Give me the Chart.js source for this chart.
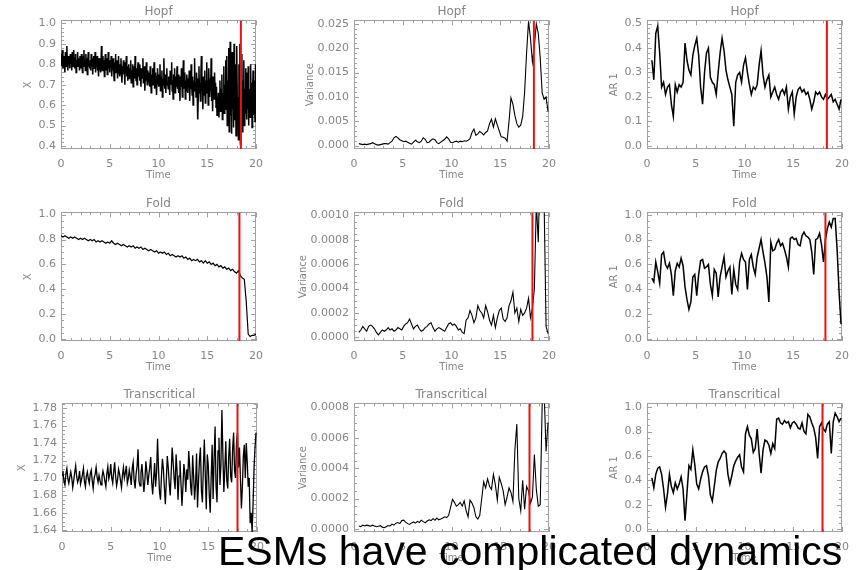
<!DOCTYPE html>
<html>
<head>
<meta charset="utf-8">
<script src="https://cdn.jsdelivr.net/npm/chart.js@4.4.1/dist/chart.umd.min.js"></script>
<style>
  body { margin: 0; background: #fff; }
  #wrap { position: relative; width: 864px; height: 570px; overflow: hidden; background: #fff; }
  .panel { position: absolute; }
  #caption {
    position: absolute; left: 218px; top: 531px; z-index: 5;
    font-family: "Liberation Sans", Arial, sans-serif; font-size: 41px; line-height: 41px;
    color: #000; white-space: nowrap;
  }
</style>
</head>
<body>
<div id="wrap">
  <canvas id="c1" class="panel" width="272" height="184" style="left:0px;top:0px"></canvas>
  <canvas id="c2" class="panel" width="272" height="184" style="left:293px;top:0px"></canvas>
  <canvas id="c3" class="panel" width="272" height="184" style="left:586px;top:0px"></canvas>
  <canvas id="c4" class="panel" width="272" height="184" style="left:0px;top:192px"></canvas>
  <canvas id="c5" class="panel" width="272" height="184" style="left:293px;top:192px"></canvas>
  <canvas id="c6" class="panel" width="272" height="184" style="left:586px;top:192px"></canvas>
  <canvas id="c7" class="panel" width="272" height="184" style="left:1px;top:383px"></canvas>
  <canvas id="c8" class="panel" width="272" height="184" style="left:293px;top:383px"></canvas>
  <canvas id="c9" class="panel" width="272" height="184" style="left:586px;top:383px"></canvas>
  <div id="caption">ESMs have complicated dynamics</div>
</div>
<script>
// ---- datos ----
const titles = ['Hopf', 'Fold', 'Transcritical'];
const transitionTimes = [18.45, 18.3, 18.0]; // línea roja por fila
const timeTicks = [0, 5, 10, 15, 20];

// Hopf: X, dt = 0.05 desde t = 0
const hopfX = [
  .85,.79,.83,.87,.78,.81,.84,.80,.76,.86,.82,.79,.89,.81,.77,.84,.80,.83,.78,.85,
  .80,.84,.77,.86,.82,.79,.87,.81,.78,.83,.85,.76,.82,.80,.86,.79,.83,.81,.77,.84,
  .83,.78,.85,.80,.76,.84,.81,.87,.79,.82,.77,.85,.80,.83,.75,.82,.86,.79,.81,.78,
  .82,.77,.85,.79,.83,.75,.81,.84,.78,.80,.86,.76,.82,.79,.84,.77,.81,.74,.83,.80,
  .78,.83,.76,.89,.80,.77,.84,.79,.82,.74,.81,.85,.77,.80,.83,.75,.79,.86,.78,.81,
  .76,.82,.79,.84,.74,.80,.77,.83,.78,.72,.81,.79,.85,.76,.80,.82,.73,.79,.84,.77,
  .80,.74,.78,.83,.76,.71,.79,.77,.82,.75,.78,.70,.81,.76,.84,.74,.79,.72,.77,.80,
  .73,.78,.76,.82,.71,.77,.74,.80,.69,.76,.79,.73,.84,.75,.72,.78,.70,.77,.81,.74,
  .77,.72,.80,.75,.69,.78,.73,.76,.83,.71,.74,.79,.67,.75,.72,.81,.74,.70,.77,.73,
  .71,.76,.69,.79,.73,.66,.75,.72,.78,.70,.74,.81,.68,.73,.76,.71,.65,.74,.78,.72,
  .75,.69,.72,.80,.67,.74,.71,.77,.64,.73,.70,.83,.72,.68,.75,.66,.73,.78,.70,.71,
  .68,.74,.71,.65,.77,.70,.73,.81,.67,.72,.63,.75,.70,.78,.66,.71,.74,.69,.79,.68,
  .72,.66,.75,.70,.62,.74,.69,.78,.71,.64,.73,.82,.68,.70,.76,.63,.72,.67,.75,.70,
  .66,.73,.69,.77,.62,.71,.68,.80,.70,.65,.74,.60,.72,.69,.83,.67,.71,.64,.76,.70,
  .73,.53,.68,.79,.66,.71,.62,.75,.84,.67,.70,.58,.74,.69,.65,.77,.61,.72,.68,.81,
  .66,.72,.60,.78,.69,.64,.73,.67,.83,.62,.70,.57,.74,.68,.63,.76,.66,.71,.59,.69,
  .55,.62,.58,.66,.54,.63,.72,.57,.68,.61,.75,.53,.66,.60,.79,.56,.70,.63,.82,.58,
  .84,.50,.72,.60,.88,.47,.68,.91,.55,.64,.46,.86,.58,.75,.49,.90,.62,.53,.80,.45,
  .70,.89,.52,.64,.43,.80,.58,.90,.41,.67,.55,.85,.47,.72,.60,.82,.50,.68,.56,.78,
  .62,.53,.76,.58,.79,.50,.68,.63,.54,.80,.59,.71,.49,.66,.77,.55,.72,.61,.52,.80
];
// Hopf: varianza, dt = 0.2 desde t = 0.5
const hopfVar = [
  0.0004,0.0003,0.0002,0.0003,0.0002,0.0003,0.0004,0.0006,0.0004,0.0002,
  0.0001,0.0002,0.0003,0.0004,0.0004,0.0003,0.0006,0.0009,0.0016,0.0019,
  0.0016,0.0012,0.0010,0.0008,0.0009,0.0007,0.0005,0.0003,0.0007,0.0011,
  0.0008,0.0006,0.0009,0.0016,0.0013,0.0006,0.0007,0.0011,0.0014,0.0012,
  0.0006,0.0004,0.0007,0.0010,0.0013,0.0018,0.0014,0.0007,0.0006,0.0008,
  0.0009,0.0007,0.0009,0.0008,0.0010,0.0009,0.0011,0.0014,0.0027,0.0034,
  0.0021,0.0024,0.0029,0.0026,0.0022,0.0027,0.0030,0.0045,0.0054,0.0038,
  0.0055,0.0042,0.0030,0.0018,0.0017,0.0015,0.0009,0.0050,0.0098,0.0085,
  0.0062,0.0045,0.0038,0.0042,0.0060,0.0110,0.0190,0.0255,0.0220,0.0172,
  0.0205,0.0250,0.0230,0.0180,0.0108,0.0095,0.0100,0.0070
];
// Hopf: AR 1, dt = 0.2 desde t = 0.5
const hopfAr = [
  0.35,0.27,0.46,0.49,0.38,0.24,0.26,0.21,0.24,0.25,
  0.17,0.12,0.25,0.22,0.25,0.24,0.26,0.42,0.35,0.31,
  0.29,0.37,0.41,0.44,0.37,0.24,0.17,0.30,0.38,0.40,
  0.28,0.26,0.25,0.21,0.30,0.38,0.44,0.39,0.31,0.27,
  0.24,0.21,0.08,0.26,0.29,0.30,0.26,0.33,0.36,0.30,
  0.25,0.21,0.24,0.23,0.25,0.33,0.39,0.29,0.24,0.27,
  0.29,0.20,0.22,0.24,0.21,0.19,0.22,0.23,0.21,0.24,
  0.15,0.20,0.22,0.13,0.20,0.23,0.24,0.22,0.23,0.21,
  0.22,0.19,0.15,0.18,0.22,0.21,0.22,0.20,0.19,0.21,
  0.19,0.20,0.21,0.18,0.19,0.17,0.15,0.19
];
// Fold: X, dt = 0.2 desde t = 0
const foldX = [
  0.83,0.82,0.83,0.82,0.81,0.82,0.81,0.82,0.81,0.80,
  0.81,0.80,0.81,0.80,0.79,0.80,0.79,0.80,0.78,0.79,
  0.78,0.79,0.78,0.77,0.78,0.77,0.79,0.77,0.76,0.77,
  0.76,0.75,0.76,0.75,0.74,0.75,0.74,0.75,0.73,0.74,
  0.73,0.74,0.72,0.73,0.72,0.71,0.72,0.71,0.70,0.71,
  0.69,0.70,0.69,0.70,0.68,0.69,0.67,0.68,0.67,0.66,
  0.67,0.66,0.67,0.65,0.66,0.64,0.65,0.63,0.64,0.63,
  0.64,0.62,0.63,0.61,0.63,0.61,0.62,0.60,0.61,0.59,
  0.60,0.58,0.59,0.57,0.58,0.56,0.57,0.55,0.56,0.54,
  0.53,0.55,0.51,0.49,0.48,0.30,0.04,0.02,0.03,0.03,
  0.04
];
// Fold: varianza, dt = 0.2 desde t = 0.5
const foldVar = [
  0.00004,0.00006,0.00009,0.00007,0.00005,0.00009,0.00010,0.00009,0.00007,0.00004,
  0.00002,0.00004,0.00006,0.00005,0.00006,0.00008,0.00006,0.00007,0.00005,0.00006,
  0.00008,0.00007,0.00006,0.00009,0.00011,0.00012,0.00015,0.00011,0.00007,0.00009,
  0.00010,0.00007,0.00005,0.00006,0.00008,0.00009,0.00011,0.00012,0.00008,0.00005,
  0.00007,0.00008,0.00007,0.00006,0.00005,0.00008,0.00011,0.00012,0.00010,0.00011,
  0.00009,0.00006,0.00007,0.00004,0.00003,0.00014,0.00016,0.00022,0.00018,0.00012,
  0.00016,0.00026,0.00022,0.00020,0.00016,0.00026,0.00021,0.00014,0.00010,0.00018,
  0.00008,0.00016,0.00022,0.00024,0.00015,0.00013,0.00016,0.00026,0.00030,0.00037,
  0.00020,0.00024,0.00013,0.00023,0.00018,0.00020,0.00024,0.00032,0.00016,0.00024,
  0.00040,0.00110,0.00078,0.00150,0.00150,0.00110,0.00009,0.00003
];
// Fold: AR 1, dt = 0.2 desde t = 0.5
const foldAr = [
  0.49,0.46,0.62,0.54,0.45,0.68,0.70,0.60,0.57,0.61,
  0.52,0.35,0.55,0.61,0.58,0.65,0.59,0.42,0.32,0.24,
  0.30,0.50,0.52,0.35,0.52,0.63,0.64,0.57,0.58,0.60,
  0.44,0.35,0.56,0.53,0.34,0.50,0.58,0.66,0.50,0.55,
  0.58,0.36,0.56,0.44,0.40,0.62,0.69,0.64,0.62,0.40,
  0.64,0.68,0.58,0.52,0.66,0.73,0.80,0.70,0.61,0.50,
  0.30,0.78,0.71,0.72,0.77,0.80,0.75,0.77,0.72,0.66,
  0.58,0.81,0.82,0.80,0.81,0.76,0.75,0.83,0.86,0.83,
  0.82,0.80,0.70,0.52,0.80,0.81,0.85,0.76,0.62,0.80,
  0.89,0.94,0.90,0.97,0.97,0.72,0.38,0.12
];
// Transcritical: X, dt = 0.1 desde t = 0
const transX = [
  1.703,1.708,1.696,1.692,1.705,1.711,1.699,1.694,1.701,1.707,
  1.700,1.689,1.697,1.706,1.714,1.702,1.695,1.699,1.708,1.693,
  1.698,1.704,1.711,1.696,1.690,1.702,1.707,1.699,1.694,1.705,
  1.709,1.697,1.688,1.700,1.704,1.712,1.701,1.695,1.703,1.697,
  1.692,1.701,1.708,1.703,1.696,1.690,1.705,1.713,1.699,1.704,
  1.716,1.700,1.694,1.707,1.718,1.702,1.691,1.698,1.710,1.705,
  1.697,1.689,1.703,1.712,1.700,1.706,1.714,1.694,1.699,1.709,
  1.702,1.692,1.711,1.718,1.697,1.688,1.705,1.713,1.733,1.696,
  1.691,1.706,1.716,1.700,1.684,1.697,1.719,1.708,1.692,1.703,
  1.712,1.724,1.695,1.681,1.700,1.717,1.690,1.706,1.745,1.710,
  1.684,1.675,1.702,1.722,1.710,1.689,1.670,1.697,1.725,1.712,
  1.693,1.680,1.706,1.735,1.718,1.699,1.687,1.727,1.708,1.675,
  1.702,1.720,1.694,1.668,1.689,1.716,1.705,1.684,1.710,1.698,
  1.731,1.712,1.690,1.680,1.726,1.702,1.675,1.693,1.728,1.666,
  1.695,1.721,1.735,1.685,1.672,1.713,1.744,1.702,1.664,1.727,
  1.715,1.682,1.660,1.700,1.738,1.676,1.722,1.759,1.690,1.672,
  1.731,1.746,1.692,1.715,1.778,1.728,1.684,1.710,1.742,1.697,
  1.688,1.725,1.745,1.702,1.695,1.733,1.752,1.708,1.700,1.740,
  1.752,1.712,1.735,1.700,1.665,1.690,1.725,1.738,1.700,1.740,
  1.718,1.690,1.700,1.648,1.660,1.638,1.672,1.712,1.735,1.752
];
// Transcritical: varianza, dt = 0.2 desde t = 0.5
const transVar = [
  0.000020,0.000015,0.000025,0.000020,0.000025,0.000022,0.000018,0.000025,0.000020,0.000015,
  0.000018,0.000022,0.000012,0.000008,0.000015,0.000022,0.000020,0.000032,0.000025,0.000038,
  0.000042,0.000035,0.000055,0.000058,0.000045,0.000035,0.000030,0.000040,0.000046,0.000038,
  0.000050,0.000042,0.000058,0.000048,0.000040,0.000052,0.000060,0.000055,0.000068,0.000058,
  0.000072,0.000060,0.000065,0.000072,0.000080,0.000075,0.000088,0.000140,0.000195,0.000175,
  0.000150,0.000160,0.000175,0.000150,0.000185,0.000120,0.000080,0.000190,0.000170,0.000140,
  0.000080,0.000065,0.000090,0.000200,0.000310,0.000270,0.000330,0.000280,0.000260,0.000360,
  0.000290,0.000190,0.000340,0.000300,0.000250,0.000160,0.000210,0.000270,0.000240,0.000180,
  0.000520,0.000690,0.000200,0.000120,0.000320,0.000130,0.000280,0.000250,0.000170,0.000210,
  0.000490,0.000260,0.000150,0.000160,0.000820,0.000900,0.000510,0.000700
];
// Transcritical: AR 1, dt = 0.2 desde t = 0.5
const transAr = [
  0.42,0.34,0.45,0.50,0.51,0.45,0.33,0.18,0.29,0.45,
  0.35,0.30,0.38,0.33,0.37,0.43,0.33,0.07,0.30,0.52,
  0.49,0.65,0.53,0.37,0.33,0.41,0.47,0.51,0.52,0.44,
  0.28,0.23,0.35,0.48,0.55,0.58,0.62,0.64,0.62,0.45,
  0.37,0.44,0.52,0.56,0.59,0.61,0.51,0.47,0.78,0.84,
  0.77,0.74,0.63,0.66,0.82,0.62,0.46,0.65,0.73,0.72,
  0.69,0.62,0.70,0.66,0.90,0.91,0.87,0.86,0.89,0.87,
  0.88,0.83,0.87,0.88,0.86,0.83,0.82,0.87,0.80,0.78,
  0.94,0.92,0.87,0.83,0.75,0.58,0.84,0.87,0.82,0.80,
  0.86,0.88,0.62,0.88,0.95,0.92,0.88,0.91
];

// marcas del eje y
const hopfXTicks = [0.4, 0.5, 0.6, 0.7, 0.8, 0.9, 1.0];
const hopfVarTicks = [0, 0.005, 0.010, 0.015, 0.020, 0.025];
const hopfArTicks = [0, 0.1, 0.2, 0.3, 0.4, 0.5];
const unitTicks = [0, 0.2, 0.4, 0.6, 0.8, 1.0];
const foldVarTicks = [0, 0.0002, 0.0004, 0.0006, 0.0008, 0.0010];
const transXTicks = [1.64, 1.66, 1.68, 1.70, 1.72, 1.74, 1.76, 1.78];
const transVarTicks = [0, 0.0002, 0.0004, 0.0006, 0.0008];

// ---- configuración de cada panel ----
const panels = [
  { id: 'c1', row: 0, yTitle: 'X',        values: hopfX,    t0: 0,   dt: 0.05, yMin: 0.385,    yMax: 1.015,    yTicks: hopfXTicks,    dec: 1, yMinor: 5, padL: 18, lw: 1.5 },
  { id: 'c2', row: 0, yTitle: 'Variance', values: hopfVar,  t0: 0.5, dt: 0.2,  yMin: -0.0007,  yMax: 0.0257,   yTicks: hopfVarTicks,  dec: 3, yMinor: 5, padL: 7,  lw: 1.1 },
  { id: 'c3', row: 0, yTitle: 'AR 1',     values: hopfAr,   t0: 0.5, dt: 0.2,  yMin: -0.013,   yMax: 0.513,    yTicks: hopfArTicks,   dec: 1, yMinor: 5, padL: 18, lw: 1.5 },
  { id: 'c4', row: 1, yTitle: 'X',        values: foldX,    t0: 0,   dt: 0.2,  yMin: -0.016,   yMax: 1.018,    yTicks: unitTicks,     dec: 1, yMinor: 4, padL: 18, lw: 1.2 },
  { id: 'c5', row: 1, yTitle: 'Variance', values: foldVar,  t0: 0.5, dt: 0.2,  yMin: -0.00003, yMax: 0.001025, yTicks: foldVarTicks,  dec: 4, yMinor: 4, padL: 0,  lw: 1.1 },
  { id: 'c6', row: 1, yTitle: 'AR 1',     values: foldAr,   t0: 0.5, dt: 0.2,  yMin: -0.014,   yMax: 1.018,    yTicks: unitTicks,     dec: 1, yMinor: 4, padL: 18, lw: 1.5 },
  { id: 'c7', row: 2, yTitle: 'X',        values: transX,   t0: 0,   dt: 0.1,  yMin: 1.638,    yMax: 1.7855,   yTicks: transXTicks,   dec: 2, yMinor: 4, padL: 11, lw: 1.3 },
  { id: 'c8', row: 2, yTitle: 'Variance', values: transVar, t0: 0.5, dt: 0.2,  yMin: -0.00002, yMax: 0.000826, yTicks: transVarTicks, dec: 4, yMinor: 4, padL: 0,  lw: 1.1 },
  { id: 'c9', row: 2, yTitle: 'AR 1',     values: transAr,  t0: 0.5, dt: 0.2,  yMin: -0.022,   yMax: 1.03,     yTicks: unitTicks,     dec: 1, yMinor: 4, padL: 18, lw: 1.5 }
];

const GRIS = '#858585';
Chart.defaults.font.family = '"DejaVu Sans", sans-serif';
Chart.defaults.animation = false;

// Caja estilo IDL con marcas hacia dentro
const cajaIDL = {
  id: 'cajaIDL',
  beforeDatasetsDraw(chart, args, opts) {
    const { ctx, chartArea: a, scales: { x, y } } = chart;
    ctx.save();
    ctx.strokeStyle = '#a0a0a0';
    ctx.lineWidth = 1;
    ctx.strokeRect(Math.round(a.left) + 0.5, Math.round(a.top) + 0.5,
      Math.round(a.right - a.left) - 1, Math.round(a.bottom - a.top) - 1);
    ctx.beginPath();
    // eje x
    const xStep = (timeTicks[1] - timeTicks[0]) / opts.xMinor;
    for (let k = 0; k * xStep <= x.max + 1e-9; k++) {
      const v = x.min + k * xStep;
      const px = Math.round(x.getPixelForValue(v)) + 0.5;
      const len = k % opts.xMinor === 0 ? 5 : 3;
      ctx.moveTo(px, a.bottom); ctx.lineTo(px, a.bottom - len);
      ctx.moveTo(px, a.top); ctx.lineTo(px, a.top + len);
    }
    // eje y
    const yt = opts.yTicks;
    const yStep = (yt[1] - yt[0]) / opts.yMinor;
    const k0 = Math.ceil((y.min - yt[0]) / yStep - 1e-6);
    const k1 = Math.floor((y.max - yt[0]) / yStep + 1e-6);
    for (let k = k0; k <= k1; k++) {
      const v = yt[0] + k * yStep;
      const py = Math.round(y.getPixelForValue(v)) + 0.5;
      const len = ((k % opts.yMinor) + opts.yMinor) % opts.yMinor === 0 ? 5 : 3;
      ctx.moveTo(a.left, py); ctx.lineTo(a.left + len, py);
      ctx.moveTo(a.right, py); ctx.lineTo(a.right - len, py);
    }
    ctx.stroke();
    ctx.restore();
  }
};

function crearPanel(p) {
  const puntos = p.values.map((v, i) => ({ x: p.t0 + i * p.dt, y: v }));
  const tRoja = transitionTimes[p.row];
  new Chart(document.getElementById(p.id), {
    type: 'line',
    data: {
      datasets: [
        { data: [{ x: tRoja, y: p.yMin }, { x: tRoja, y: p.yMax }], borderColor: '#ee1111', borderWidth: 2, pointRadius: 0 },
        { data: puntos, borderColor: '#000', borderWidth: p.lw, pointRadius: 0, tension: 0 }
      ]
    },
    plugins: [cajaIDL],
    options: {
      responsive: false,
      events: [],
      layout: { padding: { left: p.padL, right: 8, top: 0, bottom: 0 } },
      plugins: {
        legend: { display: false },
        tooltip: { enabled: false },
        title: {
          display: true, text: titles[p.row], color: GRIS, fullSize: false,
          font: { size: 12, weight: 'normal' }, padding: { top: 5, bottom: 1 }
        },
        cajaIDL: { xMinor: 5, yMinor: p.yMinor, yTicks: p.yTicks }
      },
      scales: {
        x: {
          type: 'linear', min: 0, max: 20,
          grid: { display: false, drawTicks: false }, border: { display: false },
          afterBuildTicks: ax => { ax.ticks = timeTicks.map(v => ({ value: v })); },
          ticks: { color: GRIS, font: { size: 11 }, padding: 9, maxRotation: 0, autoSkip: false, callback: v => String(v) },
          title: { display: true, text: 'Time', color: GRIS, font: { size: 10 }, padding: { top: 0, bottom: 3 } },
          afterFit: ax => { ax.height = 35; }
        },
        y: {
          type: 'linear', min: p.yMin, max: p.yMax,
          grid: { display: false, drawTicks: false }, border: { display: false },
          afterBuildTicks: ax => { ax.ticks = p.yTicks.map(v => ({ value: v })); },
          ticks: { color: GRIS, font: { size: 11 }, padding: 5, autoSkip: false, callback: v => v.toFixed(p.dec) },
          title: { display: true, text: p.yTitle, color: GRIS, font: { size: 10 }, padding: { top: 4, bottom: 0 } },
          afterFit: ax => { ax.width = 61 - p.padL; }
        }
      }
    }
  });
}

panels.forEach(crearPanel);
</script>
</body>
</html>
